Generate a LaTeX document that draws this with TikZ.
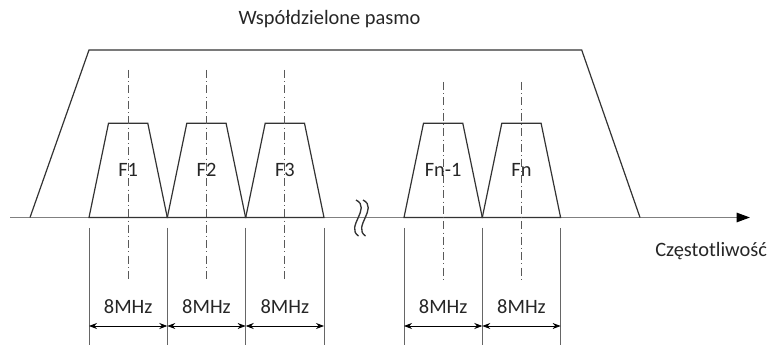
\documentclass[tikz,border=0pt]{standalone}
\usepackage{fontspec}
\setmainfont{Carlito}
\usetikzlibrary{arrows.meta}

\begin{document}
\begin{tikzpicture}[x=0.75pt,y=-0.75pt,
    chan/.style={draw=black!80,line width=0.9pt,line join=miter},
    axisline/.style={draw=black!50,line width=1.3pt},
    centre/.style={draw=black!65,line width=0.7pt,dash pattern=on 6pt off 2.5pt on 0.6pt off 2.5pt},
    guide/.style={draw=black!60,line width=0.6pt},
    dim/.style={draw=black,line width=0.6pt,{Stealth[length=6pt,width=4.5pt]}-{Stealth[length=6pt,width=4.5pt]}},
    lbl/.style={font=\fontsize{15.3}{18}\selectfont,text=black!85,inner sep=0pt,anchor=base}]
  \useasboundingbox (0,0) rectangle (771,345);
  \coordinate (ax0) at (10,217.5);
  \coordinate (ax1) at (750,217.5);
  \draw[axisline,-{Triangle[length=10pt,width=7pt,color=black]}] (ax0) -- (ax1);
  \draw[chan] (30,217.5) -- (89,50) -- (581.7,50) -- (640,217.5);
  \node[lbl] (title) at (329.5,25) {Współdzielone pasmo};
  \node[lbl,anchor=base west] (freq) at (655,257) {Częstotliwość};
  \draw[chan,line width=1pt]
    (356,200) .. controls (372,208) and (345,227) .. (358.5,236)
    (363,200) .. controls (379,208) and (352,227) .. (365.5,236);
  \foreach \x/\name/\txt/\top in {89/f1/F1/70,167.3/f2/F2/70,245.7/f3/F3/70,404/fn1/Fn-1/82,482.3/fn/Fn/82}
  {
    \draw[chan] (\x,217.5) -- (\x+19.5,123.3) -- (\x+58.8,123.3) -- (\x+78.3,217.5) -- cycle;
    \draw[centre] (\x+39.2,\top) -- (\x+39.2,279);
    \node[lbl] (\name) at (\x+39.2,177) {\txt};
    \draw[guide] (\x,228) -- (\x,345) (\x+78.3,228) -- (\x+78.3,345);
    \coordinate (\name-l) at (\x,326);
    \coordinate (\name-r) at (\x+78.3,326);
    \draw[dim] (\name-l) -- (\name-r);
    \node[lbl] (\name-bw) at (\x+39.2,314) {8MHz};
  }
\end{tikzpicture}
\end{document}
